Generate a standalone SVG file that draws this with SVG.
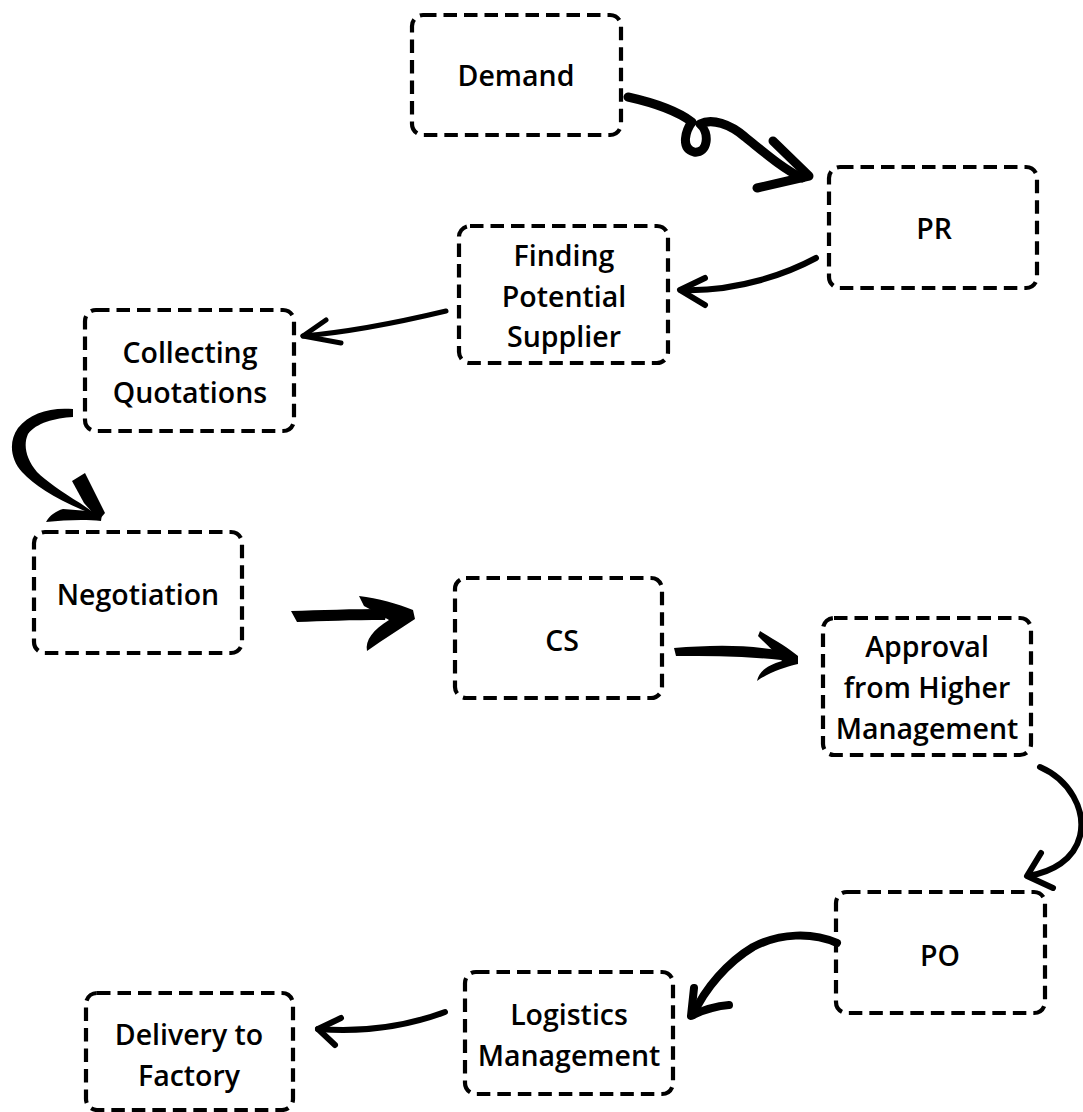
<svg xmlns="http://www.w3.org/2000/svg" width="1083" height="1112" viewBox="0 0 1083 1112">
  <style>
    .box { fill: #ffffff; stroke: #000000; stroke-width: 4.2; stroke-dasharray: 13.5 7; }
    .label { font-family: "Open Sans", "Liberation Sans", sans-serif; font-weight: 600; font-size: 28.5px; fill: #000000; text-anchor: middle; }
    .pen { fill: none; stroke: #000000; stroke-linecap: round; stroke-linejoin: round; }
    .ink { fill: #000000; stroke: none; }
  </style>
  <rect width="1083" height="1112" fill="#ffffff"/>

  <!-- process steps -->
  <g id="node-demand">
    <rect class="box" x="412" y="15" width="209" height="120" rx="11"/>
    <text class="label" x="516" y="86">Demand</text>
  </g>
  <g id="node-pr">
    <rect class="box" x="829" y="167" width="208" height="121" rx="11"/>
    <text class="label" x="934" y="239">PR</text>
  </g>
  <g id="node-finding">
    <rect class="box" x="459" y="226" width="209" height="137" rx="11"/>
    <text class="label" x="564" y="266">Finding</text>
    <text class="label" x="564" y="307">Potential</text>
    <text class="label" x="564" y="347">Supplier</text>
  </g>
  <g id="node-collecting">
    <rect class="box" x="85" y="310" width="209" height="121" rx="11"/>
    <text class="label" x="190" y="363">Collecting</text>
    <text class="label" x="190" y="403">Quotations</text>
  </g>
  <g id="node-negotiation">
    <rect class="box" x="34" y="532" width="208" height="121" rx="11"/>
    <text class="label" x="138" y="605">Negotiation</text>
  </g>
  <g id="node-cs">
    <rect class="box" x="455" y="578" width="207" height="120" rx="11"/>
    <text class="label" x="562" y="651">CS</text>
  </g>
  <g id="node-approval">
    <rect class="box" x="823" y="618" width="208" height="137" rx="11"/>
    <text class="label" x="927" y="657">Approval</text>
    <text class="label" x="927" y="698">from Higher</text>
    <text class="label" x="927" y="739">Management</text>
  </g>
  <g id="node-po">
    <rect class="box" x="836" y="892" width="209" height="121" rx="11"/>
    <text class="label" x="940" y="966">PO</text>
  </g>
  <g id="node-logistics">
    <rect class="box" x="465" y="972" width="208" height="122" rx="11"/>
    <text class="label" x="569" y="1025">Logistics</text>
    <text class="label" x="569" y="1066">Management</text>
  </g>
  <g id="node-delivery">
    <rect class="box" x="86" y="993" width="207" height="117" rx="11"/>
    <text class="label" x="189" y="1045">Delivery to</text>
    <text class="label" x="189" y="1086">Factory</text>
  </g>

  <!-- hand-drawn connectors -->
  <g id="connectors">
    <!-- Demand to PR, with a loop -->
    <path class="pen" stroke-width="9" d="M628,97 C655,103 676,110 692,122 C686,130 680,148 694,152 C708,154 710,133 700,124 C712,118 730,124 745,137 C765,153 782,168 802,178"/>
    <path class="pen" stroke-width="9" d="M773,141 L809,176 L757,188"/>

    <!-- PR to Finding Potential Supplier -->
    <path class="pen" stroke-width="6" d="M816,258 C790,272 740,292 681,290"/>
    <path class="pen" stroke-width="6" d="M705,278 L680,290 L705,305"/>

    <!-- Finding Potential Supplier to Collecting Quotations -->
    <path class="pen" stroke-width="5" d="M446,311 C400,322 350,332 303,336"/>
    <path class="pen" stroke-width="5" d="M326,320 L303,336 L341,343"/>

    <!-- Collecting Quotations to Negotiation (brush) -->
    <path class="ink" d="M73,409 C50,407 30,413 18,428 C8,442 11,460 22,472 C36,487 60,502 100,517 L80,503 C62,492 46,481 37,472 C26,459 23,445 28,434 C36,423 55,418 73,417 Z"/>
    <path class="ink" d="M72,481 L85,473 L105,513 L99,520 L84,503 Z"/>
    <path class="ink" d="M102,514 L101,521 C85,519 65,520 46,522 C50,515 56,511 63,509 C76,510 88,511 98,512 Z"/>

    <!-- Negotiation to CS (brush) -->
    <path class="ink" d="M291,611 C320,610 352,609 388,609 L385,620 C352,620 322,621 297,622 Z"/>
    <path class="ink" d="M359,596 C378,598 398,604 413,610 L415,619 C400,629 384,639 367,651 C365,640 373,630 389,620 C380,615 372,610 364,606 Z"/>

    <!-- CS to Approval (brush) -->
    <path class="ink" d="M674,648 C710,645 745,644 782,651 L781,660 C745,656 710,656 676,656 Z"/>
    <path class="ink" d="M760,631 C775,640 790,649 798,656 L798,664 C785,667 770,672 757,681 C759,671 768,665 782,661 C775,652 766,644 758,636 Z"/>

    <!-- Approval to PO -->
    <path class="pen" stroke-width="6" d="M1040,767 C1070,780 1086,810 1080,836 C1074,860 1052,872 1028,876"/>
    <path class="pen" stroke-width="6" d="M1041,853 L1027,876 L1053,888"/>

    <!-- PO to Logistics Management -->
    <path class="pen" stroke-width="8" d="M837,943 C812,932 780,933 753,947 C728,962 705,988 693,1015"/>
    <path class="pen" stroke-width="8" d="M694,988 L691,1016 C703,1010 716,1006 729,1005"/>

    <!-- Logistics Management to Delivery -->
    <path class="pen" stroke-width="6" d="M445,1012 C410,1025 370,1033 318,1029"/>
    <path class="pen" stroke-width="6" d="M341,1018 L318,1029 L335,1045"/>
  </g>
</svg>
